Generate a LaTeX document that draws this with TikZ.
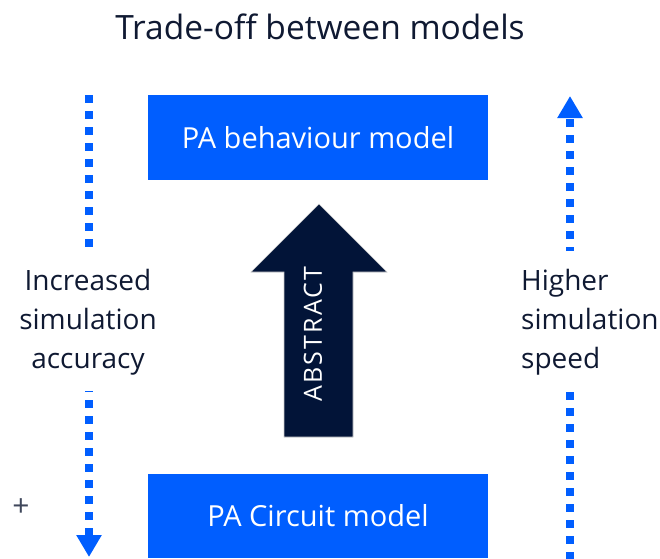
\documentclass[tikz,border=0pt]{standalone}
\usepackage{fontspec}
\setmainfont{Open Sans}
\newfontfamily\spacedfont[LetterSpace=9]{Open Sans}
\usepackage{xcolor}
\usepackage{tikz}
\usetikzlibrary{shapes,arrows,positioning,calc,arrows.meta}
\definecolor{paBlue}{RGB}{0,94,255}
\definecolor{paNavy}{RGB}{2,20,56}
\definecolor{paText}{RGB}{15,25,50}

\begin{document}
\begin{tikzpicture}[x=1pt,y=-1pt,
        pabox/.style={fill=paBlue, text=white, minimum width=340pt, inner sep=0pt, font=\fontsize{29}{35}\selectfont},
        dotline/.style={paBlue, line width=8pt, dash pattern=on 8pt off 8pt},
        dottip/.style={-{Triangle[width=24pt,length=22pt]}},
        sidetext/.style={text=paText, inner sep=0pt, font=\fontsize{28}{39}\selectfont}]
    \useasboundingbox (0,0) rectangle (660,558);

    \node[text=paText, font=\fontsize{33.5}{40}\selectfont] (title) at (320,27) {Trade-off between models};

    % Model boxes
    \node[pabox, minimum height=85pt] (behav) at (318,137.5) {PA behaviour model};
    \node[pabox, minimum height=84pt] (circuit) at (318,516) {PA Circuit model};

    % Abstract arrow
    \draw[fill=paNavy, draw=gray!40, line width=0.6pt] (284,437) -- (284,272) -- (251,272) -- (319,204) -- (387,272) -- (353,272) -- (353,437) -- cycle;
    \node[rotate=90, text=white, font=\spacedfont\fontsize{25}{30}\selectfont] (abstract) at (313,334) {ABSTRACT};

    % Left side: accuracy
    \coordinate (lA) at (89,95);
    \coordinate (lB) at (89,247);
    \coordinate (lC) at (89,391);
    \coordinate (lD) at (89,557);
    \draw[dotline] (lA) -- (lB);
    \draw[dotline, dottip, dash phase=7pt] (lC) -- (lD);
    \node[sidetext, align=center] (accuracy) at (88,322) {Increased\\simulation\\accuracy};
    \node[text=paText!80, font=\fontsize{30}{32}\selectfont] (plus) at (21,508) {+};

    % Right side: speed
    \coordinate (rA) at (570,251);
    \coordinate (rB) at (570,96);
    \coordinate (rC) at (570,392);
    \coordinate (rD) at (570,560);
    \draw[dotline, dottip, dash phase=4pt] (rA) -- (rB);
    \draw[dotline] (rC) -- (rD);
    \node[sidetext, align=left, anchor=west] (speed) at (521,322) {Higher\\simulation\\speed};
\end{tikzpicture}
\end{document}
